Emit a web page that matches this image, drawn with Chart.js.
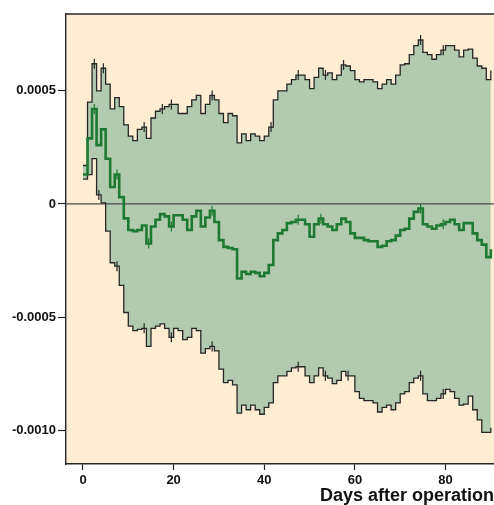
<!DOCTYPE html>
<html>
<head>
<meta charset="utf-8">
<script src="https://cdn.jsdelivr.net/npm/chart.js@4.4.0/dist/chart.umd.min.js"></script>
<style>
  html, body { margin: 0; padding: 0; background: #fff; overflow: hidden; }
  canvas { display: block; }
</style>
</head>
<body>
<canvas id="chart" width="494" height="505"></canvas>
<script>
// values in units of 0.0001
const UNIT = 1e-4;

const days = [
  0, 1, 2, 3, 4, 5, 6, 7, 8, 9, 10, 11, 12, 13, 14, 15, 16, 17, 18, 19,
  20, 21, 22, 23, 24, 25, 26, 27, 28, 29, 30, 31, 32, 33, 34, 35, 36, 37, 38, 39,
  40, 41, 42, 43, 44, 45, 46, 47, 48, 49, 50, 51, 52, 53, 54, 55, 56, 57, 58, 59,
  60, 61, 62, 63, 64, 65, 66, 67, 68, 69, 70, 71, 72, 73, 74, 75, 76, 77, 78, 79,
  80, 81, 82, 83, 84, 85, 86, 87, 88, 89, 90
];

const upper = [
  1.7, 4.5, 6.2, 5.0, 6.0, 5.3, 4.2, 4.7, 4.3, 3.5, 3.0, 2.8, 3.3, 3.4, 2.9, 3.8, 4.1, 4.2, 4.3, 4.4,
  4.4, 4.0, 4.0, 4.3, 4.6, 4.8, 4.0, 4.4, 4.8, 4.6, 4.0, 3.6, 4.0, 3.9, 2.7, 3.1, 2.8, 3.1, 3.0, 2.8,
  3.0, 3.4, 4.6, 5.0, 5.0, 5.3, 5.5, 5.7, 5.7, 5.5, 5.1, 5.6, 6.0, 5.7, 5.8, 5.5, 5.7, 6.15, 6.1, 5.9,
  5.5, 5.4, 5.5, 5.5, 5.4, 5.1, 5.3, 5.5, 5.3, 5.7, 6.15, 6.2, 6.6, 7.0, 7.25, 6.7, 6.6, 6.4, 6.6, 6.8,
  7.0, 7.0, 6.8, 6.5, 6.8, 6.85, 6.45, 6.1, 6.0, 5.5, 5.9
];

const estimate = [
  1.3, 2.9, 4.2, 2.6, 3.3, 2.0, 0.75, 1.3, 0.3, -0.64, -1.15, -1.2, -1.15, -0.95, -1.75, -1.0, -0.7, -0.45, -0.55, -1.0,
  -0.5, -0.5, -0.7, -1.15, -0.55, -0.3, -1.0, -0.6, -0.3, -0.8, -1.6, -1.9, -1.95, -2.0, -3.3, -3.0, -3.1, -3.0, -3.05, -3.2,
  -3.05, -2.7, -1.6, -1.3, -1.15, -0.85, -0.8, -0.7, -0.7, -0.9, -1.45, -0.9, -0.65, -0.9, -1.0, -1.15, -0.9, -0.65, -0.8, -1.3,
  -1.5, -1.5, -1.6, -1.65, -1.65, -1.9, -1.85, -1.65, -1.6, -1.4, -1.15, -1.1, -0.65, -0.35, -0.2, -0.9, -1.0, -1.1, -0.95, -0.9,
  -0.8, -0.7, -0.9, -1.15, -0.85, -0.85, -1.3, -1.6, -1.8, -2.35, -2.0
];

const lower = [
  1.1, 1.3, 2.0, 0.4, 0.05, -1.2, -2.6, -2.75, -3.6, -4.8, -5.4, -5.6, -5.55, -5.5, -6.3, -5.5, -5.4, -5.3, -5.5, -5.9,
  -5.5, -5.6, -6.0, -5.9, -5.5, -5.6, -6.6, -6.4, -6.3, -6.5, -7.3, -7.9, -7.8, -8.0, -9.25, -8.9, -9.1, -8.9, -9.1, -9.3,
  -9.0, -8.8, -7.9, -7.6, -7.6, -7.4, -7.25, -7.2, -7.2, -7.6, -7.9, -7.6, -7.25, -7.6, -7.7, -7.95, -7.8, -7.4, -7.6, -7.6,
  -8.3, -8.6, -8.7, -8.7, -8.8, -9.2, -9.0, -8.9, -9.1, -8.8, -8.4, -8.3, -7.9, -7.7, -7.6, -8.4, -8.7, -8.7, -8.6, -8.4,
  -8.2, -8.3, -8.6, -8.9, -8.85, -8.5, -9.1, -9.55, -10.1, -10.1, -9.9
];

// small censoring ticks sitting on the step lines (day where a tick is drawn)
const upperTicks = [2, 4, 13, 17, 19, 28, 41, 47, 53, 57, 74, 79];
const estimateTicks = [2, 7, 14, 19, 28, 47, 52, 74, 79];
const lowerTicks = [3, 7, 13, 19, 28, 47, 53, 58, 74, 79];

const yTickLabels = { '5': '0.0005', '0': '0', '-5': '-0.0005', '-10': '-0.0010' };

const toPoints = (vals) => days.map((d, i) => ({ x: d, y: vals[i] * UNIT }));
const tickPoints = (list, vals) => list.map(d => ({ x: d + 0.5, y: vals[days.indexOf(d)] * UNIT }));

const FONT = '"Liberation Sans", Arial, Helvetica, sans-serif';
const INK = '#262626';

const panelPlugin = {
  id: 'panel',
  beforeDraw(chart) {
    const { ctx, chartArea: a } = chart;
    ctx.save();
    ctx.fillStyle = '#feedd3';
    ctx.fillRect(a.left, a.top, a.right - a.left, a.bottom - a.top);
    ctx.restore();
  },
  beforeDatasetsDraw(chart) {
    // zero reference line over the band, under the step lines
    const { ctx, chartArea: a, scales } = chart;
    const y0 = scales.y.getPixelForValue(0);
    ctx.save();
    ctx.strokeStyle = '#4a4a4a';
    ctx.lineWidth = 1.2;
    ctx.beginPath();
    ctx.moveTo(a.left, y0);
    ctx.lineTo(a.right, y0);
    ctx.stroke();
    ctx.restore();
  },
  afterDraw(chart) {
    const { ctx, chartArea: a } = chart;
    ctx.save();
    ctx.strokeStyle = INK;
    ctx.lineWidth = 1.4;
    ctx.beginPath();
    ctx.moveTo(a.left, a.top);
    ctx.lineTo(a.right, a.top);
    ctx.stroke();
    ctx.restore();
  }
};

const tickSet = (list, vals, color) => ({
  type: 'scatter',
  data: tickPoints(list, vals),
  pointStyle: 'line',
  rotation: 90,
  radius: 5,
  hoverRadius: 5,
  borderColor: color,
  borderWidth: 1.2,
  showLine: false
});

new Chart(document.getElementById('chart'), {
  type: 'line',
  data: {
    datasets: [
      { data: toPoints(estimate), stepped: true, borderColor: '#1e7a32', borderWidth: 2.6, pointRadius: 0, fill: false },
      { data: toPoints(upper), stepped: true, borderColor: INK, borderWidth: 1.3, pointRadius: 0, fill: false },
      { data: toPoints(lower), stepped: true, borderColor: INK, borderWidth: 1.3, pointRadius: 0,
        fill: 1, backgroundColor: '#b2cbae' },
      tickSet(upperTicks, upper, INK),
      tickSet(estimateTicks, estimate, '#1e7a32'),
      tickSet(lowerTicks, lower, INK)
    ]
  },
  options: {
    responsive: false,
    devicePixelRatio: 1,
    animation: false,
    layout: { autoPadding: false, padding: { top: 14, right: 0, bottom: 0, left: 0 } },
    plugins: {
      legend: { display: false },
      tooltip: { enabled: false },
      filler: { drawTime: 'beforeDatasetsDraw' }
    },
    scales: {
      x: {
        type: 'linear',
        min: -3.75,
        max: 90.7,
        afterFit: (s) => { s.height = 41; s.paddingLeft = 0; s.paddingRight = 0; },
        ticks: { stepSize: 20, includeBounds: false, color: '#111', padding: 3,
          font: { family: FONT, size: 13, weight: 'bold' } },
        grid: { drawOnChartArea: false, tickLength: 6, tickColor: INK, tickWidth: 1.2 },
        border: { color: INK, width: 1.4 },
        title: { display: true, text: 'Days after operation', align: 'end', color: '#111',
          font: { family: FONT, size: 18, weight: 'bold', lineHeight: 1 }, padding: { top: 0, bottom: 0 } }
      },
      y: {
        min: -0.00115,
        max: 0.00084,
        afterFit: (s) => { s.width = 66; s.paddingTop = 0; s.paddingBottom = 0; },
        ticks: {
          stepSize: 0.0005, includeBounds: false, color: '#111', padding: 2,
          font: { family: FONT, size: 13, weight: 'bold' },
          callback: (v) => yTickLabels[String(Math.round(v / UNIT))] ?? ''
        },
        grid: { drawOnChartArea: false, tickLength: 8, tickColor: INK, tickWidth: 1.2 },
        border: { color: INK, width: 1.4 }
      }
    }
  },
  plugins: [panelPlugin]
});
</script>
</body>
</html>
